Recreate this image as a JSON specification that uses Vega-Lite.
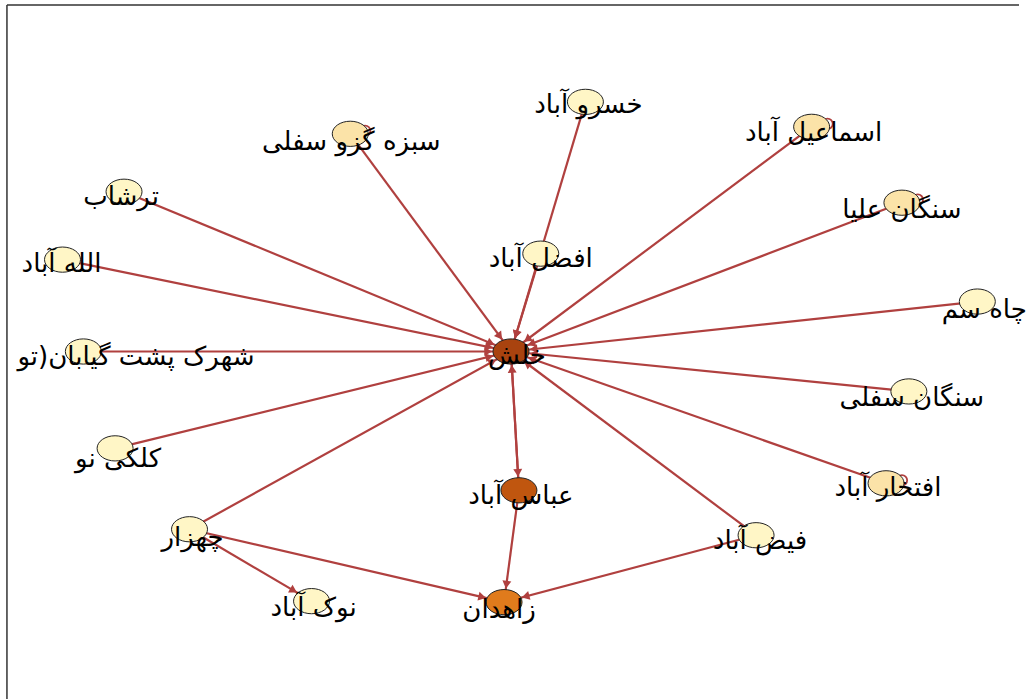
{
  "$schema": "https://vega.github.io/schema/vega-lite/v6.json",
  "autosize": {"type": "fit", "contains": "padding"},
  "width": 1027,
  "height": 700,
  "padding": 0,
  "background": "white",
  "config": {"view": {"stroke": null}},
  "datasets": {
    "nodes": [
      {"name": "خلش", "x": 515, "y": 352, "lx": 521, "ly": 357, "type": "hub"},
      {"name": "خسرو آباد", "x": 590, "y": 102, "lx": 593, "ly": 105, "type": "leaf"},
      {"name": "سبزه گزو سفلی", "x": 353, "y": 134, "lx": 354, "ly": 142, "type": "loop"},
      {"name": "اسماعیل آباد", "x": 818, "y": 127, "lx": 820, "ly": 133, "type": "loop"},
      {"name": "سنگان علیا", "x": 909, "y": 203, "lx": 909, "ly": 210, "type": "loop"},
      {"name": "ترشاب", "x": 125, "y": 192, "lx": 122, "ly": 197, "type": "leaf"},
      {"name": "الله آباد", "x": 63, "y": 260, "lx": 62, "ly": 264, "type": "leaf"},
      {"name": "افضل آباد", "x": 545, "y": 254, "lx": 545, "ly": 259, "type": "leaf"},
      {"name": "چاه سم", "x": 985, "y": 302, "lx": 992, "ly": 310, "type": "leaf"},
      {"name": "شهرک پشت گیابان(تو", "x": 84, "y": 352, "lx": 137, "ly": 358, "type": "leaf"},
      {"name": "سنگان سفلی", "x": 916, "y": 392, "lx": 919, "ly": 399, "type": "leaf"},
      {"name": "کلکی نو", "x": 116, "y": 449, "lx": 119, "ly": 460, "type": "leaf"},
      {"name": "افتخار آباد", "x": 893, "y": 484, "lx": 895, "ly": 489, "type": "loop"},
      {"name": "عباس آباد", "x": 523, "y": 491, "lx": 525, "ly": 497, "type": "mid"},
      {"name": "فیض آباد", "x": 762, "y": 536, "lx": 766, "ly": 542, "type": "leaf"},
      {"name": "چهزار", "x": 191, "y": 530, "lx": 194, "ly": 539, "type": "leaf"},
      {"name": "نوک آباد", "x": 314, "y": 602, "lx": 316, "ly": 609, "type": "leaf"},
      {"name": "زاهدان", "x": 508, "y": 603, "lx": 503, "ly": 611, "type": "sink"}
    ],
    "edges": [
      {"source": "خسرو آباد", "target": "خلش"},
      {"source": "سبزه گزو سفلی", "target": "خلش"},
      {"source": "اسماعیل آباد", "target": "خلش"},
      {"source": "سنگان علیا", "target": "خلش"},
      {"source": "ترشاب", "target": "خلش"},
      {"source": "الله آباد", "target": "خلش"},
      {"source": "افضل آباد", "target": "خلش"},
      {"source": "چاه سم", "target": "خلش"},
      {"source": "شهرک پشت گیابان(تو", "target": "خلش"},
      {"source": "سنگان سفلی", "target": "خلش"},
      {"source": "کلکی نو", "target": "خلش"},
      {"source": "افتخار آباد", "target": "خلش"},
      {"source": "فیض آباد", "target": "خلش"},
      {"source": "چهزار", "target": "خلش"},
      {"source": "عباس آباد", "target": "خلش"},
      {"source": "خلش", "target": "عباس آباد"},
      {"source": "عباس آباد", "target": "زاهدان"},
      {"source": "چهزار", "target": "زاهدان"},
      {"source": "فیض آباد", "target": "زاهدان"},
      {"source": "چهزار", "target": "نوک آباد"}
    ],
    "loops": [
      {"name": "سبزه گزو سفلی", "x": 368, "y": 131},
      {"name": "اسماعیل آباد", "x": 834, "y": 124},
      {"name": "سنگان علیا", "x": 925, "y": 200},
      {"name": "افتخار آباد", "x": 909, "y": 481}
    ],
    "frame": [
      {"x": 7, "y": 5, "x2": 1027, "y2": 5},
      {"x": 7, "y": 5, "x2": 7, "y2": 700}
    ]
  },
  "layer": [
    {
      "data": {"name": "frame"},
      "mark": {"type": "rule", "color": "#333333", "strokeWidth": 1.5},
      "encoding": {
        "x": {"field": "x", "type": "quantitative", "axis": null, "scale": {"domain": [0, 1027], "nice": false, "zero": false}},
        "y": {"field": "y", "type": "quantitative", "axis": null, "scale": {"domain": [0, 700], "nice": false, "zero": false, "reverse": true}},
        "x2": {"field": "x2"},
        "y2": {"field": "y2"}
      }
    },
    {
      "data": {"name": "edges"},
      "transform": [
        {"lookup": "source", "from": {"data": {"name": "nodes"}, "key": "name", "fields": ["x", "y"]}, "as": ["sx", "sy"]},
        {"lookup": "target", "from": {"data": {"name": "nodes"}, "key": "name", "fields": ["x", "y"]}, "as": ["tx", "ty"]}
      ],
      "mark": {"type": "rule", "color": "#B0403F", "strokeWidth": 2.2},
      "encoding": {
        "x": {"field": "sx", "type": "quantitative", "axis": null, "scale": {"domain": [0, 1027], "nice": false, "zero": false}},
        "y": {"field": "sy", "type": "quantitative", "axis": null, "scale": {"domain": [0, 700], "nice": false, "zero": false, "reverse": true}},
        "x2": {"field": "tx"},
        "y2": {"field": "ty"}
      }
    },
    {
      "data": {"name": "edges"},
      "transform": [
        {"lookup": "source", "from": {"data": {"name": "nodes"}, "key": "name", "fields": ["x", "y"]}, "as": ["sx", "sy"]},
        {"lookup": "target", "from": {"data": {"name": "nodes"}, "key": "name", "fields": ["x", "y"]}, "as": ["tx", "ty"]},
        {"calculate": "datum.tx - datum.sx", "as": "dx"},
        {"calculate": "datum.ty - datum.sy", "as": "dy"},
        {"calculate": "sqrt(datum.dx * datum.dx + datum.dy * datum.dy)", "as": "len"},
        {"calculate": "1 / sqrt(pow(datum.dx / datum.len / 18, 2) + pow(datum.dy / datum.len / 12.5, 2))", "as": "rr"},
        {"calculate": "datum.tx - datum.dx / datum.len * (datum.rr + 5)", "as": "ax"},
        {"calculate": "datum.ty - datum.dy / datum.len * (datum.rr + 5)", "as": "ay"},
        {"calculate": "atan2(datum.dx, -datum.dy) * 180 / PI", "as": "ang"}
      ],
      "mark": {"type": "point", "shape": "triangle-up", "filled": true, "color": "#B0403F", "size": 80, "opacity": 1},
      "encoding": {
        "x": {"field": "ax", "type": "quantitative", "axis": null, "scale": {"domain": [0, 1027], "nice": false, "zero": false}},
        "y": {"field": "ay", "type": "quantitative", "axis": null, "scale": {"domain": [0, 700], "nice": false, "zero": false, "reverse": true}},
        "angle": {"field": "ang", "type": "quantitative", "scale": null}
      }
    },
    {
      "data": {"name": "loops"},
      "mark": {"type": "point", "shape": "circle", "filled": false, "stroke": "#B0403F", "strokeWidth": 1.8, "size": 110, "opacity": 1},
      "encoding": {
        "x": {"field": "x", "type": "quantitative", "axis": null, "scale": {"domain": [0, 1027], "nice": false, "zero": false}},
        "y": {"field": "y", "type": "quantitative", "axis": null, "scale": {"domain": [0, 700], "nice": false, "zero": false, "reverse": true}}
      }
    },
    {
      "data": {"name": "nodes"},
      "mark": {"type": "point", "shape": "M-1,0A1,0.7,0,1,1,1,0A1,0.7,0,1,1,-1,0Z", "filled": true, "stroke": "#222222", "strokeWidth": 1, "size": 1296, "opacity": 1},
      "encoding": {
        "x": {"field": "x", "type": "quantitative", "axis": null, "scale": {"domain": [0, 1027], "nice": false, "zero": false}},
        "y": {"field": "y", "type": "quantitative", "axis": null, "scale": {"domain": [0, 700], "nice": false, "zero": false, "reverse": true}},
        "fill": {"field": "type", "type": "nominal", "legend": null, "scale": {"domain": ["hub", "mid", "sink", "loop", "leaf"], "range": ["#A9430F", "#C0560F", "#E07B1C", "#FBE3A8", "#FFF6C6"]}}
      }
    },
    {
      "data": {"name": "nodes"},
      "mark": {"type": "text", "font": "DejaVu Sans", "fontSize": 26, "color": "#000000", "align": "center", "baseline": "middle"},
      "encoding": {
        "x": {"field": "lx", "type": "quantitative", "axis": null, "scale": {"domain": [0, 1027], "nice": false, "zero": false}},
        "y": {"field": "ly", "type": "quantitative", "axis": null, "scale": {"domain": [0, 700], "nice": false, "zero": false, "reverse": true}},
        "text": {"field": "name", "type": "nominal"}
      }
    }
  ]
}
